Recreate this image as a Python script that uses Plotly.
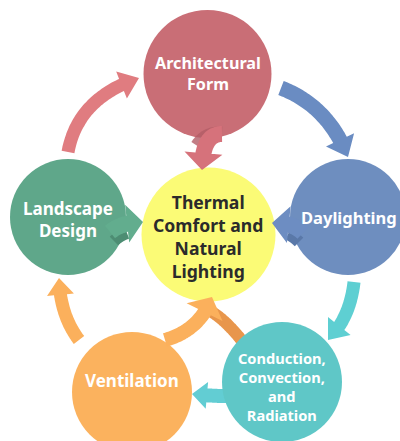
import numpy as np
import plotly.graph_objects as go

# ---- data: nodes of the diagram ----
node_names = ["Architectural Form", "Thermal Comfort and Natural Lighting", "Daylighting",
              "Landscape Design", "Ventilation", "Conduction, Convection, and Radiation"]
node_lines = [["Architectural", "Form"],
              ["Thermal", "Comfort and", "Natural", "Lighting"],
              ["Daylighting"],
              ["Landscape", "Design"],
              ["Ventilation"],
              ["Conduction,", "Convection,", "and", "Radiation"]]
node_colors = ["#c96e76", "#fbfb76", "#6e8ebf", "#5fa78a", "#fbb25e", "#5fc7c7"]
text_colors = ["white", "#2b2b2b", "white", "white", "white", "white"]

# edges (from index, to index, colour)
edges_from = [3, 0, 2, 5, 4, 4, 0, 3, 2]
edges_to = [0, 2, 5, 4, 3, 1, 1, 1, 1]
edge_colors = ["#e07c80", "#6a8cc2", "#5ecfd2", "#62cdd3", "#fbb05c", "#fbb05c",
               "#d6727b", "#62ad8e", "#6d8dc2"]

# ---- layout geometry (pixel space) ----
W, H = 400, 441
centers = [(207.5, 74), (208.5, 234.5), (348, 217), (68, 217), (132, 392), (282, 382)]
radii = [64, 67, 58, 58, 60, 60]
font_sizes = [16.2, 17.6, 16.5, 17, 17, 14.6]
text_cy = [73.5, 236.5, 217, 219, 380, 386]
text_cx = [208, 208, 349, 68, 132, 282]

# arrow geometry: start, control, tip, shaft width, head width, head length
arrow_geo = [
    ((68, 152), (78, 98), (139, 78), 13, 29, 19),
    ((281, 88), (328, 106), (348, 157), 15, 31, 19),
    ((354, 282), (350, 318), (328, 340), 13, 29, 18),
    ((226, 396), (210, 396), (192, 394), 14, 27, 15),
    ((79, 340), (60, 315), (59, 278), 13, 27, 17),
    ((165, 340), (200, 330), (212, 297), 14, 40, 17),
    ((222, 134), (202, 134), (202, 170), 16, 38, 17),
    ((110, 232), (122, 222), (143, 222), 16, 38, 16),
    ((303, 233), (292, 222), (272, 223), 16, 37, 17),
]


def bezier(p0, c, p1, n=400):
    t = np.linspace(0, 1, n)[:, None]
    p0, c, p1 = map(np.array, (p0, c, p1))
    return (1 - t) ** 2 * p0 + 2 * (1 - t) * t * c + t ** 2 * p1


def arrow_path(p0, c, p1, w, hw, hl):
    pts = bezier(p0, c, p1)
    seg = np.hypot(*np.diff(pts, axis=0).T)
    s = np.concatenate([[0], np.cumsum(seg)])
    L = s[-1]
    idx = int(np.searchsorted(s, L - hl)) if hl > 0 else len(pts) - 1
    shaft = pts[: idx + 1][::8]
    if not np.allclose(shaft[-1], pts[idx]):
        shaft = np.vstack([shaft, pts[idx]])
    d = np.gradient(shaft, axis=0)
    d /= np.hypot(d[:, 0], d[:, 1])[:, None]
    nrm = np.stack([-d[:, 1], d[:, 0]], axis=1)
    if hl > 0:
        base = pts[idx]
        hd = np.array(p1) - base
        hd /= np.hypot(*hd)
        hn = np.array([-hd[1], hd[0]])
        nrm[-1] = hn
    left = shaft + nrm * w / 2
    right = shaft - nrm * w / 2
    poly = list(left)
    if hl > 0:
        poly += [base + hn * hw / 2, np.array(p1), base - hn * hw / 2]
    poly += list(right[::-1])
    return "M " + " L ".join(f"{x:.1f},{y:.1f}" for x, y in poly) + " Z"


shapes = []

# dark orange back arc from Conduction towards the centre (behind everything)
shapes.append(dict(type="path", path=arrow_path((246, 346), (228, 322), (212, 312), 12, 12, 0),
                   fillcolor="#e8964c", line=dict(width=0)))

# outer cycle arrows
for k in range(5):
    p0, c, p1, w, hw, hl = arrow_geo[k]
    shapes.append(dict(type="path", path=arrow_path(p0, c, p1, w, hw, hl),
                       fillcolor=edge_colors[k], line=dict(width=0)))

# circles
for i in [0, 2, 3, 4, 5, 1]:
    cx, cy = centers[i]
    r = radii[i]
    shapes.append(dict(type="circle", x0=cx - r, x1=cx + r, y0=cy - r, y1=cy + r,
                       fillcolor=node_colors[i], line=dict(width=0)))

# darker shading at the roots of the inward arrows
shapes.append(dict(type="path", path=arrow_path((222, 132), (205, 131), (196, 145), 11, 11, 0),
                   fillcolor="#b35c66", line=dict(width=0), opacity=0.8))
shapes.append(dict(type="path", path=arrow_path((114, 241), (119, 236), (127, 233), 12, 12, 0),
                   fillcolor="#4d8d73", line=dict(width=0)))
shapes.append(dict(type="path", path=arrow_path((299, 242), (294, 237), (288, 234), 12, 12, 0),
                   fillcolor="#5a78a8", line=dict(width=0)))

# arrows pointing into the centre
for k in [6, 7, 8, 5]:
    p0, c, p1, w, hw, hl = arrow_geo[k]
    shapes.append(dict(type="path", path=arrow_path(p0, c, p1, w, hw, hl),
                       fillcolor=edge_colors[k], line=dict(width=0)))

annotations = []
for i, lines in enumerate(node_lines):
    annotations.append(dict(x=text_cx[i], y=text_cy[i],
                            text="<br>".join(f"<b>{ln}</b>" for ln in lines),
                            showarrow=False, align="center",
                            xanchor="center", yanchor="middle",
                            font=dict(family="Noto Sans", size=font_sizes[i],
                                      color=text_colors[i])))

fig = go.Figure()
fig.update_layout(
    width=W, height=H, autosize=False,
    margin=dict(l=0, r=0, t=0, b=0),
    paper_bgcolor="white", plot_bgcolor="white",
    xaxis=dict(range=[0, W], visible=False, fixedrange=True),
    yaxis=dict(range=[H, 0], visible=False, fixedrange=True),
    shapes=shapes, annotations=annotations, showlegend=False,
)
fig.write_html("out.html", config=dict(displayModeBar=False),
               post_script="document.body.style.margin='0';document.body.style.overflow='hidden';")
